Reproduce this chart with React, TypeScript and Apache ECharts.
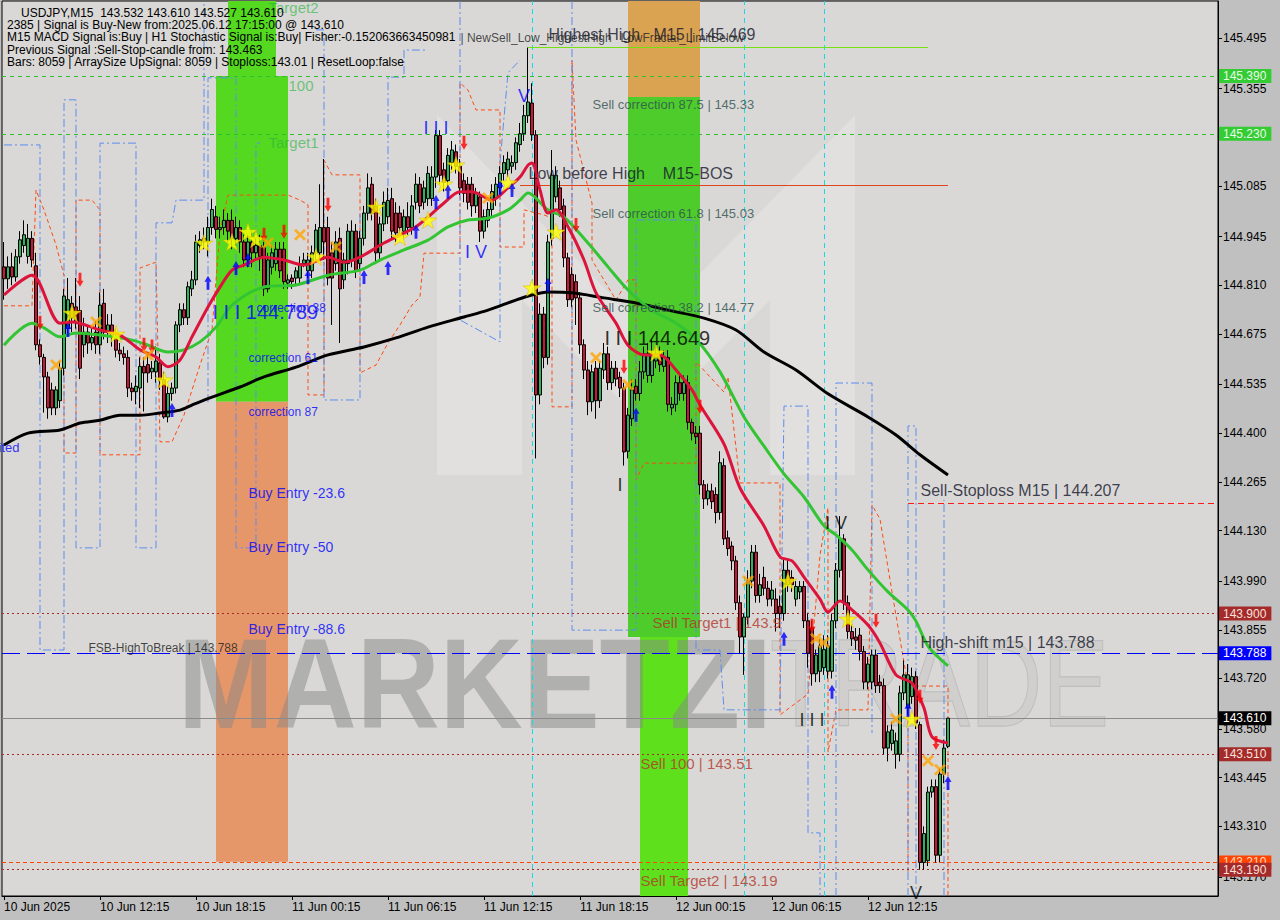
import React, { useEffect, useRef } from 'react';
import * as echarts from 'echarts';

const F = '"Liberation Sans", Arial, sans-serif';

// ---------- axis ticks ----------
const xTickLabels = ['10 Jun 2025', '10 Jun 12:15', '10 Jun 18:15', '11 Jun 00:15', '11 Jun 06:15', '11 Jun 12:15', '11 Jun 18:15', '12 Jun 00:15', '12 Jun 06:15', '12 Jun 12:15'];
const yTicks = [145.495, 145.355, 145.085, 144.945, 144.81, 144.675, 144.535, 144.4, 144.265, 144.13, 143.99, 143.855, 143.72, 143.58, 143.445, 143.31, 143.17];
const Y_MIN = 143.117;
const Y_MAX = 145.598;
const SLOTS = 304;

// ---------- candles [open, close, low, high] ----------
const candles = [
[144.861,144.828,144.770,144.930],[144.828,144.861,144.800,144.890],[144.861,144.833,144.810,144.900],[144.833,144.889,144.820,144.910],[144.889,144.936,144.870,144.960],
[144.920,144.950,144.900,144.990],[144.890,144.940,144.870,144.980],[144.940,144.880,144.860,144.960],[144.864,144.645,144.630,144.900],[144.645,144.612,144.590,144.660],
[144.610,144.556,144.457,144.620],[144.556,144.470,144.440,144.570],[144.520,144.470,144.450,144.540],[144.470,144.520,144.450,144.530],[144.490,144.580,144.470,144.600],
[144.580,144.780,144.560,144.800],[144.690,144.770,144.670,144.830],[144.760,144.720,144.680,144.780],[144.750,144.710,144.690,144.830],[144.740,144.580,144.550,144.780],
[144.645,144.680,144.610,144.720],[144.680,144.650,144.620,144.700],[144.650,144.665,144.630,144.690],[144.680,144.645,144.620,144.710],[144.645,144.755,144.620,144.790],
[144.760,144.680,144.660,144.800],[144.680,144.700,144.650,144.730],[144.700,144.670,144.640,144.730],[144.665,144.630,144.610,144.690],[144.630,144.620,144.600,144.650],
[144.620,144.610,144.590,144.640],[144.610,144.525,144.500,144.630],[144.525,144.515,144.490,144.540],[144.515,144.530,144.480,144.560],[144.525,144.585,144.470,144.610],
[144.585,144.567,144.460,144.610],[144.590,144.567,144.540,144.620],[144.570,144.580,144.550,144.600],[144.570,144.600,144.540,144.640],[144.595,144.548,144.520,144.620],
[144.548,144.445,144.440,144.570],[144.445,144.510,144.430,144.530],[144.510,144.525,144.490,144.540],[144.525,144.700,144.510,144.710],[144.700,144.742,144.680,144.760],
[144.742,144.720,144.700,144.760],[144.720,144.806,144.700,144.820],[144.800,144.825,144.780,144.850],[144.825,144.930,144.810,144.950],[144.920,144.936,144.900,144.960],
[144.940,144.930,144.910,144.970],[144.930,144.970,144.890,145.000],[144.970,145.020,144.950,145.050],[145.000,144.965,144.940,145.030],[144.965,144.970,144.940,145.000],
[144.970,144.990,144.950,145.020],[144.990,144.960,144.930,145.010],[144.990,144.940,144.910,145.020],[144.940,144.970,144.920,145.000],[144.970,144.930,144.900,144.990],
[144.930,144.880,144.860,144.950],[144.880,144.930,144.860,144.950],[144.930,144.900,144.860,144.960],[144.900,144.920,144.880,144.940],[144.920,144.890,144.850,144.950],
[144.915,144.800,144.780,144.930],[144.800,144.880,144.790,144.900],[144.860,144.900,144.840,144.920],[144.870,144.910,144.850,144.930],[144.910,144.850,144.830,144.930],
[144.910,144.820,144.800,144.930],[144.816,144.825,144.800,144.840],[144.830,144.820,144.800,144.840],[144.830,144.850,144.810,144.860],[144.830,144.870,144.810,144.890],
[144.870,144.880,144.860,144.900],[144.850,144.880,144.830,144.900],[144.850,144.900,144.830,144.920],[144.900,144.963,144.880,144.980],[144.900,144.970,144.880,145.090],
[144.970,144.930,144.880,145.160],[144.970,144.830,144.810,145.000],[144.900,144.830,144.700,144.930],[144.870,144.930,144.850,144.960],[144.940,144.800,144.650,144.970],
[144.825,144.880,144.800,144.900],[144.870,144.960,144.840,144.980],[144.880,144.960,144.860,144.990],[144.960,144.850,144.830,144.980],[144.870,144.940,144.850,144.960],
[144.940,145.010,144.920,145.030],[145.010,145.080,144.990,145.120],[145.090,145.010,144.990,145.110],[145.030,144.900,144.870,145.050],[144.900,144.980,144.880,145.000],
[144.980,145.040,144.960,145.070],[145.000,145.045,144.980,145.080],[145.050,144.960,144.940,145.080],[145.010,144.955,144.930,145.040],[145.010,144.970,144.950,145.030],
[144.960,145.000,144.940,145.020],[145.000,144.970,144.950,145.040],[144.970,145.030,144.950,145.060],[145.040,145.090,145.020,145.120],[145.090,145.030,145.010,145.110],
[145.040,145.080,145.020,145.100],[145.050,145.120,145.030,145.140],[145.050,145.110,145.030,145.140],[145.110,145.225,145.080,145.240],[145.225,145.115,145.090,145.240],
[145.130,145.095,145.070,145.150],[145.100,145.170,145.080,145.190],[145.150,145.185,145.130,145.210],[145.180,145.140,145.120,145.200],[145.140,145.080,145.060,145.160],
[145.100,145.065,145.040,145.120],[145.090,145.040,145.020,145.110],[145.090,145.030,145.000,145.110],[145.030,145.065,145.010,145.080],[145.055,144.960,144.930,145.070],
[144.960,145.000,144.940,145.020],[144.990,145.020,144.970,145.040],[145.020,145.070,145.000,145.090],[145.050,145.090,145.030,145.110],[145.080,145.120,145.060,145.140],
[145.120,145.150,145.100,145.170],[145.130,145.160,145.110,145.180],[145.140,145.150,145.120,145.170],[145.150,145.205,145.130,145.220],[145.200,145.230,145.180,145.260],
[145.230,145.280,145.210,145.310],[145.280,145.318,145.260,145.469],[145.315,145.227,145.210,145.370],[145.227,144.506,144.330,145.240],[144.506,144.730,144.480,144.760],
[144.730,144.610,144.580,144.750],[144.610,144.930,144.590,144.950],[144.940,145.115,144.920,145.185],[145.055,145.115,145.040,145.140],[145.080,145.020,145.000,145.100],
[145.030,144.886,144.860,145.050],[144.886,144.770,144.750,144.900],[144.840,144.770,144.750,144.860],[144.820,144.775,144.700,144.840],[144.775,144.645,144.620,144.790],
[144.645,144.575,144.550,144.660],[144.575,144.487,144.450,144.600],[144.487,144.570,144.460,144.590],[144.580,144.490,144.440,144.600],[144.490,144.580,144.470,144.600],
[144.575,144.620,144.550,144.650],[144.620,144.540,144.520,144.640],[144.540,144.580,144.520,144.600],[144.580,144.550,144.530,144.600],[144.555,144.525,144.500,144.570],
[144.525,144.348,144.310,144.540],[144.350,144.450,144.330,144.470],[144.440,144.520,144.420,144.550],[144.530,144.510,144.490,144.550],[144.510,144.570,144.490,144.600],
[144.570,144.620,144.550,144.640],[144.560,144.620,144.540,144.650],[144.560,144.620,144.540,144.660],[144.600,144.620,144.580,144.640],[144.620,144.590,144.570,144.640],
[144.585,144.610,144.570,144.630],[144.610,144.480,144.460,144.630],[144.470,144.480,144.450,144.500],[144.480,144.540,144.460,144.560],[144.540,144.510,144.490,144.570],
[144.510,144.540,144.490,144.560],[144.540,144.430,144.410,144.560],[144.430,144.400,144.380,144.440],[144.400,144.390,144.370,144.420],[144.400,144.257,144.230,144.420],
[144.257,144.218,144.190,144.270],[144.218,144.240,144.200,144.260],[144.240,144.210,144.190,144.260],[144.230,144.180,144.150,144.250],[144.180,144.318,144.160,144.350],
[144.310,144.107,144.090,144.330],[144.110,144.080,144.060,144.130],[144.087,144.046,144.020,144.100],[144.046,143.930,143.910,144.060],[143.930,143.835,143.790,143.950],
[143.835,143.890,143.730,143.900],[143.890,143.990,143.870,144.020],[143.990,144.070,143.970,144.090],[144.070,143.950,143.930,144.090],[143.950,143.980,143.930,144.010],
[144.000,143.970,143.950,144.030],[143.970,143.940,143.920,143.990],[143.940,143.965,143.920,143.990],[143.940,143.900,143.850,143.970],[143.920,143.900,143.860,143.950],
[143.900,144.020,143.880,144.050],[144.020,143.980,143.960,144.050],[144.000,143.980,143.960,144.020],[143.940,143.975,143.920,143.990],[143.960,143.975,143.940,143.990],
[143.975,143.880,143.860,143.990],[143.880,143.790,143.750,143.900],[143.860,143.733,143.700,143.880],[143.733,143.785,143.710,143.800],[143.740,143.810,143.710,143.830],
[143.750,143.800,143.730,143.840],[143.740,143.810,143.720,143.840],[143.740,143.880,143.720,143.900],[143.880,144.020,143.860,144.040],[144.020,144.107,144.000,144.170],
[144.107,143.930,143.910,144.120],[143.930,143.850,143.830,143.950],[143.850,143.830,143.810,143.870],[143.835,143.826,143.800,143.860],[143.840,143.795,143.770,143.860],
[143.795,143.710,143.690,143.810],[143.710,143.760,143.690,143.780],[143.710,143.785,143.690,143.800],[143.785,143.700,143.680,143.800],[143.710,143.700,143.680,143.730],
[143.700,143.527,143.510,143.720],[143.527,143.572,143.490,143.590],[143.540,143.577,143.520,143.600],[143.510,143.547,143.470,143.570],[143.510,143.680,143.490,143.700],
[143.680,143.730,143.660,143.770],[143.640,143.730,143.620,143.760],[143.670,143.725,143.650,143.750],[143.725,143.597,143.580,143.740],[143.592,143.210,143.190,143.600],
[143.210,143.290,143.190,143.310],[143.215,143.405,143.200,143.420],[143.405,143.420,143.390,143.440],[143.420,143.230,143.210,143.440],[143.230,143.455,143.210,143.470],
[143.455,143.527,143.430,143.550],[143.532,143.610,143.527,143.610]
];

// ---------- moving averages [bar, price] ----------
const maFast = [[0,144.783],[7,144.838],[14,144.705],[17,144.708],[24,144.686],[29,144.672],[34,144.631],[38,144.611],[41,144.584],[44,144.603],[47,144.667],[51,144.75],[54,144.805],[57,144.852],[60,144.866],[65,144.888],[70,144.88],[75,144.866],[81,144.888],[85,144.874],[89,144.888],[95,144.927],[99,144.949],[103,144.972],[106,144.999],[110,145.038],[114,145.069],[117,145.069],[120,145.055],[122,145.046],[126,145.08],[129,145.11],[131,145.143],[132,145.149],[134,145.074],[136,145.01],[138,145.019],[141,144.972],[145,144.88],[148,144.789],[153,144.705],[156,144.644],[160,144.617],[164,144.617],[168,144.575],[172,144.52],[174,144.478],[180,144.37],[184,144.248],[190,144.143],[194,144.057],[197,144.046],[200,144.001],[204,143.94],[206,143.904],[209,143.935],[212,143.91],[216,143.868],[219,143.818],[223,143.73],[227,143.707],[230,143.638],[232,143.558],[236,143.541]];
const maMid = [[0,144.644],[7,144.705],[10,144.692],[14,144.667],[18,144.678],[24,144.672],[32,144.658],[36,144.644],[41,144.625],[45,144.631],[49,144.653],[53,144.694],[57,144.755],[65,144.805],[73,144.811],[81,144.838],[89,144.852],[94,144.88],[100,144.908],[106,144.935],[111,144.972],[116,144.991],[121,144.996],[126,145.019],[129,145.046],[131,145.066],[136,145.019],[140,144.999],[146,144.927],[151,144.861],[156,144.797],[162,144.741],[168,144.705],[173,144.661],[179,144.57],[185,144.445],[190,144.364],[195,144.287],[200,144.223],[205,144.143],[208,144.118],[212,144.076],[216,144.021],[221,143.96],[226,143.91],[228,143.879],[231,143.81],[236,143.755]];
const maSlow = [[0,144.367],[6,144.4],[14,144.409],[19,144.428],[24,144.436],[29,144.45],[34,144.45],[39,144.456],[44,144.464],[47,144.478],[52,144.5],[59,144.528],[65,144.556],[73,144.583],[81,144.617],[90,144.639],[98,144.664],[106,144.694],[115,144.722],[121,144.741],[128,144.769],[132,144.783],[136,144.791],[142,144.789],[150,144.775],[158,144.761],[166,144.741],[175,144.719],[183,144.686],[190,144.625],[198,144.575],[206,144.509],[216,144.445],[223,144.395],[229,144.34],[236,144.284]];

// ---------- stepped channel lines ----------
const orangePieces = [
  [[0,144.753],[7,144.753],[8,145.074],[10,145.019],[13,144.922],[15,144.838],[15,144.345],[18,144.345],[18,145.046],[22,145.046],[24,145.019],[24,144.34],[34,144.34],[34,144.858],[38,144.874],[39,144.376],[42,144.376],[45,144.45],[49,144.589],[52,144.686],[54,144.96],[56,145.06],[71,145.06],[74,145.046],[76,145.033],[76,144.506],[80,144.506],[80,145.157],[82,145.116],[89,145.116],[89,144.567],[93,144.589],[96,144.65],[99,144.7],[102,144.755],[104,144.778],[105,144.899],[114,144.899],[114,145.371],[116,145.351],[118,145.296],[124,145.296],[124,144.916],[130,144.916],[130,145.019],[135,145.005],[137,144.996],[137,144.473],[142,144.473],[142,145.434],[143,145.213],[147,145.038],[147,144.88],[153,144.769],[156,144.825],[158,144.825],[158,144.27],[160,144.317],[173,144.317],[173,144.597],[174,144.586],[180,144.514],[181,144.556],[184,144.262],[194,144.262],[194,143.619],[201,143.677],[204,144.062],[206,144.193],[206,143.516],[208,143.633],[216,143.633],[217,144.201],[219,144.162],[222,143.96],[226,143.699],[226,143.175]],
  [[226,143.699],[236,143.699],[236,143.12]],
];
const bluePieces = [
  [[0,145.199],[9,145.199],[9,143.799],[15,143.799],[15,145.324],[18,145.324],[18,144.082],[24,144.082],[24,145.204],[33,145.204],[33,144.082],[38,144.082],[38,144.983],[42,144.983],[43,145.046],[50,145.046],[50,145.598]],
  [[51,144.486],[51,145.385],[58,145.385],[58,144.082],[63,144.082],[63,145.204],[64,145.204]],
  [[78,145.518],[80,145.518],[80,144.492],[89,144.492],[89,145.01],[96,145.01],[96,145.387],[100,145.387],[100,145.462],[106,145.462]],
  [[114,145.598],[114,144.714],[124,144.653],[124,145.149],[126,145.399],[129,145.434]],
  [[142,145.598],[142,143.854],[158,143.854],[158,144.991],[173,144.991],[173,143.799],[179,143.799],[180,143.633],[194,143.633],[195,144.475],[201,144.475],[201,143.292],[204,143.292],[204,143.117]],
  [[208,143.117],[208,144.539],[217,144.539],[217,143.569]],
  [[226,143.117],[226,144.42],[228,144.42],[228,143.117]],
  [[235,143.117],[235,144.215]],
];

// ---------- signal markers [bar, price] ----------
const stars = [[17,144.733],[28,144.675],[40,144.548],[50,144.927],[57,144.93],[61,144.958],[63,144.938],[78,144.889],[93,145.027],[99,144.944],[106,144.991],[110,145.091],[113,145.144],[126,145.094],[132,144.803],[138,144.958],[163,144.623],[196,143.99],[211,143.885],[227,143.608]];
const upArrows = [[16,144.686],[42,144.464],[51,144.817],[58,144.858],[61,144.88],[76,144.833],[90,144.833],[96,144.858],[103,144.958],[108,145.041],[111,145.069],[124,145.08],[127,145.074],[136,144.811],[158,144.451],[195,143.83],[207,143.683],[226,143.633],[236,143.43]];
const downArrows = [[9,144.706],[19,144.825],[35,144.645],[37,144.64],[65,144.95],[70,144.958],[81,145.033],[115,145.205],[143,144.977],[155,144.584],[174,144.473],[202,143.866],[218,143.88],[229,143.669],[233,143.541]];
const crosses = [[13,144.589],[23,144.708],[36,144.617],[66,144.927],[74,144.95],[83,144.916],[121,145.052],[148,144.609],[156,144.534],[186,143.99],[203,143.83],[205,143.819],[223,143.608],[231,143.492],[234,143.467]];

// ---------- price levels ----------
const levelPrices = [145.39, 145.23, 143.9, 143.788, 143.61, 143.51, 143.21, 143.19];
const levelKinds = ['green', 'green', 'brown', 'blue', 'current', 'brown', 'orange', 'brown'];
const highestHigh = 145.469;
const lowBeforeHigh = 145.086;
const sellStoploss = 144.207;
const cyanBars = [132, 185, 205];

// ---------- zones [barFrom, barTo, priceLow, priceHigh, kind] ----------
const zones = [
  [53, 71, 144.487, 145.39, 'lime'],
  [56, 68, 145.39, 145.598, 'lime'],
  [53, 71, 143.212, 144.487, 'salmon'],
  [156, 174, 145.332, 145.598, 'amber'],
  [156, 174, 143.835, 145.332, 'green'],
  [159, 171, 143.117, 143.835, 'lime2'],
];

// ---------- text annotations [bar, price, text, kind] ----------
const notes = [
  [136, 145.504, 'Highest High   M15 | 145.469', 'big'],
  [114, 145.496, '| NewSell_Low_HighestHigh', 'tiny'],
  [154, 145.496, 'LowFractal_LimitBelow', 'tiny'],
  [147, 145.31, 'Sell correction 87.5 | 145.33', 'corr'],
  [131, 145.121, 'Low before High    M15-BOS', 'big'],
  [147, 145.008, 'Sell correction 61.8 | 145.03', 'corr'],
  [147, 144.747, 'Sell correction 38.2 | 144.77', 'corr'],
  [150, 144.664, 'I I I 144.649', 'wavePrice'],
  [162, 143.874, 'Sell Target1 | 143.9', 'target'],
  [159, 143.483, 'Sell 100 | 143.51', 'target'],
  [159, 143.16, 'Sell Target2 | 143.19', 'target'],
  [229, 144.24, 'Sell-Stoploss M15 | 144.207', 'big'],
  [229, 143.821, 'High-shift m15 | 143.788', 'big'],
  [21, 143.805, 'FSB-HighToBreak | 143.788', 'small'],
  [61, 144.234, 'Buy Entry -23.6', 'buy'],
  [61, 144.085, 'Buy Entry -50', 'buy'],
  [61, 143.857, 'Buy Entry -88.6', 'buy'],
  [61, 144.609, 'correction 61', 'buySmall'],
  [61, 144.459, 'correction 87', 'buySmall'],
  [63, 144.747, 'correction 38', 'buySmall'],
  [52, 144.736, 'I I I 144.789', 'wavePriceBlue'],
  [71, 145.365, '100', 'greenText'],
  [66, 145.205, 'Target1', 'greenText'],
  [66, 145.58, 'Target2', 'greenText'],
  [0, 144.359, 'ited', 'cut'],
];
const waveLabels = [
  [130, 145.335, 'V', 'blue'],
  [108, 145.246, 'I I I', 'blue'],
  [118, 144.902, 'I V', 'blue'],
  [154, 144.256, 'I', 'black'],
  [208, 144.151, 'I V', 'black'],
  [202, 143.605, 'I I I', 'black'],
  [228, 143.125, 'V', 'black'],
];

const headerLines = [
  'USDJPY,M15  143.532 143.610 143.527 143.610',
  '2385 | Signal is Buy-New from:2025.06.12 17:15:00 @ 143.610',
  'M15 MACD Signal is:Buy | H1 Stochastic Signal is:Buy| Fisher:-0.152063663450981',
  'Previous Signal :Sell-Stop-candle from: 143.463',
  'Bars: 8059 | ArraySize UpSignal: 8059 | Stoploss:143.01 | ResetLoop:false',
];

// ---------- styles ----------
const levelStyle: Record<string, any> = {
  green: { line: '#2fc02f', type: [4, 4], bg: '#33cc33', fg: '#e9f9e9' },
  brown: { line: '#a52a2a', type: [2, 3], bg: '#a52a2a', fg: '#f6e2dc' },
  blue: { line: '#0000ff', type: [18, 7], bg: '#0000ff', fg: '#ffffff' },
  current: { line: '#8a8a8a', type: 'solid', bg: '#000000', fg: '#ffffff' },
  orange: { line: '#ff4500', type: [4, 3], bg: '#ff4500', fg: '#ffd8c0' },
};
const zoneColor: Record<string, string> = {
  lime: '#55d920', salmon: '#e6976a', amber: '#d9a352', green: '#4dcc2c', lime2: '#5ee11c',
};
const noteStyle: Record<string, any> = {
  big: { color: '#14142a', fontSize: 16 },
  tiny: { color: '#222222', fontSize: 12 },
  corr: { color: '#2f4f4f', fontSize: 13 },
  wavePrice: { color: '#000000', fontSize: 20 },
  wavePriceBlue: { color: '#0000ff', fontSize: 20 },
  target: { color: '#b2372a', fontSize: 15 },
  small: { color: '#1a1a1a', fontSize: 12 },
  buy: { color: '#0000ff', fontSize: 14 },
  buySmall: { color: '#0000ff', fontSize: 12 },
  greenText: { color: 'rgba(40,180,60,0.8)', fontSize: 15 },
  cut: { color: '#0000ff', fontSize: 13, offset: [-6, 0] },
};

const STAR = 'path://M50,0 L61,35 L98,35 L68,57 L79,91 L50,70 L21,91 L32,57 L2,35 L39,35 Z';
const UP = 'path://M5,0 L10,6 L7,6 L7,14 L3,14 L3,6 L0,6 Z';
const DOWN = 'path://M3,0 L7,0 L7,8 L10,8 L5,14 L0,8 L3,8 Z';
const CROSS = 'path://M0,2 L2,0 L6,4 L10,0 L12,2 L8,6 L12,10 L10,12 L6,8 L2,12 L0,10 L4,6 Z';

export default function App() {
  const ref = useRef<HTMLDivElement>(null);
  useEffect(() => {
    document.body.style.margin = '0';
    if (!ref.current) return;
    const chart = echarts.init(ref.current, undefined, { renderer: 'svg' });
    const cats = Array.from({ length: SLOTS }, (_, i) => 'c' + i);
    const tickShown = (i: number) => i % 24 === 0 && i / 24 < xTickLabels.length;

    const lineSeries = (data: any, color: string, width: number, type: any, z: number, smooth: any = false) => ({
      type: 'line', data, showSymbol: false, symbol: 'none', smooth, silent: true, z,
      lineStyle: { color, width, type }, animation: false,
    });

    const markerSeries = (data: number[][], symbol: string, color: string, size: any, z: number, border?: string) => ({
      type: 'scatter', data, symbol, symbolSize: size, symbolKeepAspect: true, silent: true, z,
      itemStyle: { color, borderColor: border || color, borderWidth: border ? 0.6 : 0 },
    });

    const logoFill = 'rgba(255,255,255,0.22)';

    const option: any = {
      animation: false,
      backgroundColor: '#c0c0c0',
      grid: { left: 2, top: 1, right: 62, bottom: 24, show: true, backgroundColor: '#d9d8d6', borderColor: '#000', borderWidth: 1 },
      xAxis: {
        type: 'category', data: cats, boundaryGap: true,
        axisLine: { show: true, lineStyle: { color: '#000' } },
        axisTick: { show: true, alignWithLabel: true, interval: (i: number) => tickShown(i), length: 4, lineStyle: { color: '#000' } },
        axisLabel: {
          interval: (i: number) => tickShown(i),
          formatter: (_v: string, i: number) => xTickLabels[Math.round(i / 24)] || '',
          align: 'left', margin: 5, color: '#000', fontSize: 12, fontFamily: F,
        },
        splitLine: { show: false },
      },
      yAxis: {
        type: 'value', position: 'right', min: Y_MIN, max: Y_MAX, scale: true,
        axisLine: { show: true, lineStyle: { color: '#000' } },
        axisTick: { show: true, length: 4, customValues: yTicks, lineStyle: { color: '#000' } },
        axisLabel: { customValues: yTicks, formatter: (v: number) => v.toFixed(3), color: '#000', fontSize: 12, fontFamily: F, margin: 5 },
        splitLine: { show: false },
      },
      graphic: [
        { type: 'polygon', z: 1, silent: true, shape: { points: [[437, 475], [437, 115], [645, 330], [645, 425], [522, 300], [522, 475]] }, style: { fill: logoFill } },
        { type: 'polygon', z: 1, silent: true, shape: { points: [[855, 475], [855, 115], [645, 330], [645, 425], [770, 300], [770, 475]] }, style: { fill: logoFill } },
        { type: 'text', x: 178, y: 683, scaleY: 1.12, z: 3, silent: true, style: { text: 'MARKETZI', font: `bold 115px ${F}`, fill: 'rgba(135,135,135,0.5)', verticalAlign: 'middle' } },
        { type: 'text', x: 770, y: 683, scaleY: 1.25, z: 3, silent: true, style: { text: 'TRADE', font: `100px ${F}`, fill: 'rgba(200,200,200,0.55)', stroke: 'rgba(170,170,170,0.6)', lineWidth: 1, verticalAlign: 'middle' } },
        ...headerLines.map((t, i) => ({
          type: 'text', x: i === 0 ? 21 : 7, y: [13, 25, 37, 50, 62][i], z: 20, silent: true,
          style: { text: t, font: `12px ${F}`, fill: '#000', verticalAlign: 'middle' },
        })),
      ],
      series: [
        {
          type: 'scatter', data: [[0, 144]], symbolSize: 0, silent: true, z: 2,
          markArea: {
            silent: true,
            data: zones.map((zn: any) => [
              { xAxis: zn[0], yAxis: zn[2], itemStyle: { color: zoneColor[zn[4]], opacity: 1 } },
              { xAxis: zn[1], yAxis: zn[3] },
            ]),
          },
        },
        {
          type: 'scatter', data: [[0, 144]], symbolSize: 0, silent: true, z: 3,
          markLine: {
            silent: true, symbol: ['none', 'none'], animation: false,
            data: [
              ...cyanBars.map((b) => ({ xAxis: b, lineStyle: { color: '#18d8e8', width: 1, type: [5, 4] }, label: { show: false } })),
              [{ coord: [131, highestHigh], lineStyle: { color: '#77e010', width: 1, type: 'solid' }, label: { show: false } }, { coord: [231, highestHigh] }],
              [{ coord: [129, lowBeforeHigh], lineStyle: { color: '#e0461e', width: 1, type: 'solid' }, label: { show: false } }, { coord: [236, lowBeforeHigh] }],
              [{ coord: [226, sellStoploss], lineStyle: { color: '#ff1a1a', width: 1, type: [6, 4] }, label: { show: false } }, { coord: [SLOTS - 1, sellStoploss] }],
              ...levelPrices.map((p, i) => {
                const st = levelStyle[levelKinds[i]];
                return {
                  yAxis: p,
                  lineStyle: { color: st.line, width: 1, type: st.type },
                  label: {
                    show: true, position: 'end', distance: 1, formatter: p.toFixed(3),
                    backgroundColor: st.bg, color: st.fg, padding: [1, 5, 1, 4], fontSize: 12, fontFamily: F,
                  },
                };
              }),
            ],
          },
        },
        ...orangePieces.map((pc) => lineSeries(pc, '#ff4a10', 1, [4, 3], 4)),
        ...bluePieces.map((pc) => lineSeries(pc, '#5b8def', 1, [8, 3, 2, 3], 4)),
        {
          type: 'candlestick', data: candles, barWidth: 3, z: 5, silent: true,
          itemStyle: { color: '#2eb35a', color0: '#cf1235', borderColor: '#000', borderColor0: '#000', borderWidth: 1 },
        },
        lineSeries(maSlow, '#000000', 3, 'solid', 6, 0.3),
        lineSeries(maMid, '#33c433', 3, 'solid', 6, 0.3),
        lineSeries(maFast, '#dc143c', 3, 'solid', 6, 0.3),
        markerSeries(stars, STAR, '#ffff00', 18, 7, '#d8b000'),
        markerSeries(upArrows, UP, '#0000ff', [10, 14], 7),
        markerSeries(downArrows, DOWN, '#ff0000', [10, 14], 7),
        markerSeries(crosses, CROSS, '#ffa500', 12, 7),
        {
          type: 'scatter', symbolSize: 1, silent: true, z: 8, itemStyle: { color: 'rgba(0,0,0,0)' },
          data: notes.map((n: any) => {
            const st = noteStyle[n[3]];
            return {
              value: [n[0], n[1]],
              label: { show: true, position: 'right', distance: 0, formatter: n[2], color: st.color, fontSize: st.fontSize, fontFamily: F, offset: st.offset || [0, 0] },
            };
          }),
        },
        {
          type: 'scatter', symbolSize: 1, silent: true, z: 8, itemStyle: { color: 'rgba(0,0,0,0)' },
          data: waveLabels.map((w: any) => ({
            value: [w[0], w[1]],
            label: { show: true, position: 'inside', formatter: w[2], color: w[3] === 'blue' ? '#0000ff' : '#000000', fontSize: 18, fontFamily: F },
          })),
        },
      ],
    };
    chart.setOption(option);
    return () => chart.dispose();
  }, []);
  return <div ref={ref} style={{ position: 'fixed', left: 0, top: 0, width: 1280, height: 920 }} />;
}
